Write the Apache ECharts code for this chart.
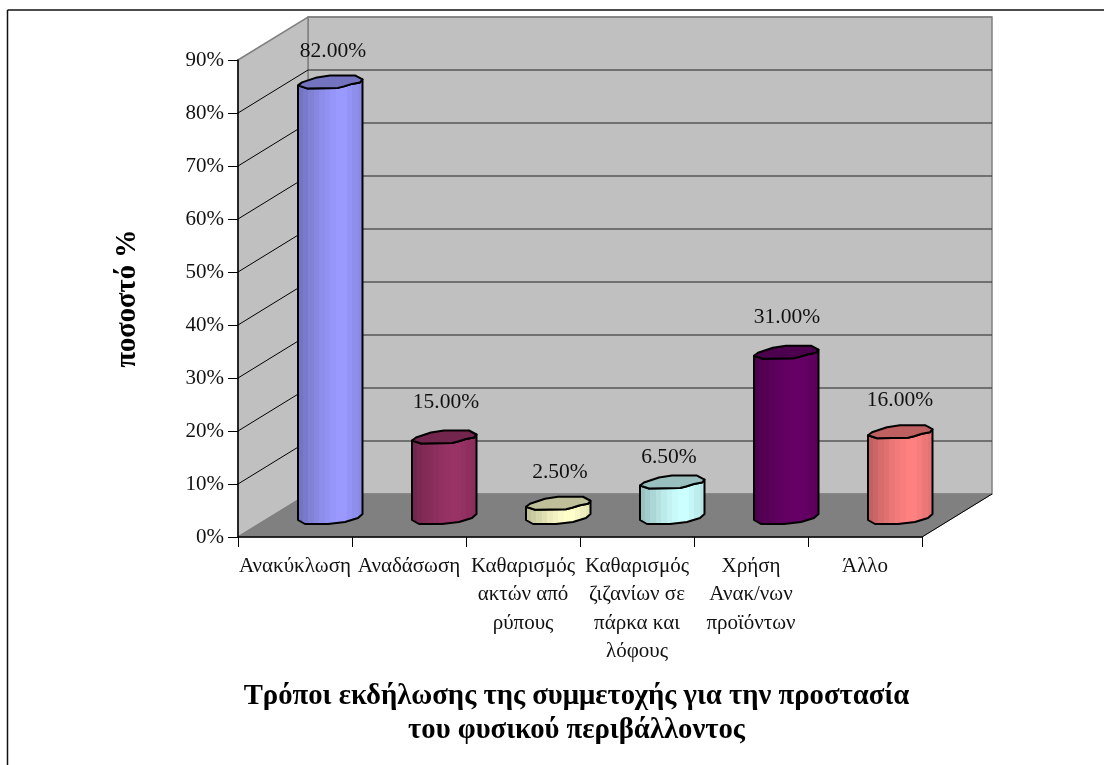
<!DOCTYPE html>
<html>
<head>
<meta charset="utf-8">
<style>
  html, body { margin: 0; padding: 0; background: #fff; }
  #main { width: 1104px; height: 765px; }
</style>
<script src="https://cdn.jsdelivr.net/npm/echarts@6/dist/echarts.min.js"></script>
</head>
<body>
<div id="main"></div>
<script>
var categories = ['Ανακύκλωση', 'Αναδάσωση', 'Καθαρισμός\nακτών από\nρύπους',
  'Καθαρισμός\nζιζανίων σε\nπάρκα και\nλόφους', 'Χρήση\nΑνακ/νων\nπροϊόντων', 'Άλλο'];
var values = [82, 15, 2.5, 6.5, 31, 16];
var barColors = ['#9999ff', '#993366', '#ffffcc', '#ccffff', '#660066', '#ff8080'];
var gridTicks = [10, 20, 30, 40, 50, 60, 70, 80, 90];
var yTitle = 'ποσοστό %';
var xTitle = 'Τρόποι εκδήλωσης της συμμετοχής για την προστασία\nτου φυσικού περιβάλλοντος';

// layout of the fake 3d box
var depthX = 70, depthY = -43;
var midX = 35, midY = -20;
var serif = '"Liberation Serif", "Times New Roman", serif';
// label nudges, the source places them a little unevenly
var labelNudge = [[3, 0], [2, -4], [2, 0], [-3, 6], [1, -4], [0, -1]];

// outline of the cylinder cap and base, relative to the bar centre
var capFront = [[-32, 3], [-23, 6], [8, 5.5], [14, 4], [22, 1.5], [30, 0], [32.5, -3]];
var capBack = [[25, -7], [0, -7], [-13, -5], [-28, 0]];
var baseShape = [[32.5, -3], [28, 1], [15, 5], [-2, 7], [-25, 7], [-32, 3]];
var bands = [0.76, 0.8, 0.84, 0.88, 0.92, 0.95, 0.98, 1, 1, 0.97, 0.93, 0.9];

function shade(hex, k) {
  var n = parseInt(hex.slice(1), 16);
  var r = Math.round((n >> 16) * k), g = Math.round(((n >> 8) & 255) * k), b = Math.round((n & 255) * k);
  return 'rgb(' + r + ',' + g + ',' + b + ')';
}

function bandFill(hex) {
  var stops = [];
  bands.forEach(function (k, i) {
    stops.push({ offset: i / bands.length, color: shade(hex, k) });
    stops.push({ offset: (i + 1) / bands.length, color: shade(hex, k) });
  });
  return new echarts.graphic.LinearGradient(0, 0, 1, 0, stops);
}

function renderBox(params, api) {
  var cs = params.coordSys;
  var left = cs.x, right = cs.x + cs.width;
  var y0 = api.coord([0, 0])[1], yTop = api.coord([0, 90])[1];
  var wall = { fill: '#c0c0c0', stroke: '#808080', lineWidth: 1.5 };
  return {
    type: 'group',
    children: [
      { type: 'polygon', shape: { points: [[left + depthX, yTop + depthY], [right + depthX, yTop + depthY], [right + depthX, y0 + depthY], [left + depthX, y0 + depthY]] }, style: wall },
      { type: 'polygon', shape: { points: [[left, yTop], [left + depthX, yTop + depthY], [left + depthX, y0 + depthY], [left, y0]] }, style: wall },
      { type: 'polygon', shape: { points: [[left, y0], [left + depthX, y0 + depthY], [right + depthX, y0 + depthY], [right, y0]] }, style: { fill: '#808080', stroke: '#808080' } },
      { type: 'line', shape: { x1: right, y1: y0, x2: right + depthX, y2: y0 + depthY }, style: { stroke: '#000', lineWidth: 1 } }
    ]
  };
}

function renderGridLine(params, api) {
  var cs = params.coordSys;
  var y = api.coord([0, api.value(0)])[1];
  var isTop = api.value(0) === 90;
  var kids = [{ type: 'line', shape: { x1: cs.x + depthX, y1: y + depthY, x2: cs.x + cs.width + depthX, y2: y + depthY }, style: { stroke: isTop ? '#808080' : '#222', lineWidth: isTop ? 1.5 : 1.2 } }];
  if (!isTop) {
    kids.push({ type: 'line', shape: { x1: cs.x, y1: y, x2: cs.x + depthX, y2: y + depthY }, style: { stroke: '#000', lineWidth: 1 } });
  }
  return { type: 'group', children: kids };
}

function renderBar(params, api) {
  var i = params.dataIndex;
  var top = api.coord([api.value(0), api.value(1)]);
  var base = api.coord([api.value(0), 0]);
  var cx = top[0] + midX, yt = top[1] + midY, yb = base[1] + midY;
  var line = { stroke: '#000', lineWidth: 2, lineJoin: 'round' };
  var front = capFront.map(function (p) { return [cx + p[0], yt + p[1]]; });
  var body = front.concat(baseShape.map(function (p) { return [cx + p[0], yb + p[1]]; }));
  var cap = front.concat(capBack.map(function (p) { return [cx + p[0], yt + p[1]]; }));
  return {
    type: 'group',
    children: [
      { type: 'polygon', shape: { points: body }, style: Object.assign({ fill: bandFill(barColors[i]) }, line) },
      { type: 'polygon', shape: { points: cap }, style: Object.assign({ fill: shade(barColors[i], 0.75) }, line) },
      {
        type: 'text',
        style: {
          x: cx + labelNudge[i][0], y: yt - 31 + labelNudge[i][1],
          text: values[i].toFixed(2) + '%',
          font: '21.5px ' + serif, fill: '#111', align: 'center', verticalAlign: 'middle'
        }
      }
    ]
  };
}

var chart = echarts.init(document.getElementById('main'), null, { renderer: 'canvas' });
chart.setOption({
  backgroundColor: '#fff',
  animation: false,
  graphic: [
    { type: 'line', z: -1, silent: true, shape: { x1: 7.5, y1: 10, x2: 1104, y2: 10 }, style: { stroke: '#111', lineWidth: 1.5 } },
    { type: 'line', z: -1, silent: true, shape: { x1: 7.5, y1: 10, x2: 7.5, y2: 765 }, style: { stroke: '#111', lineWidth: 1.5 } }
  ],
  grid: { left: 238, top: 60, width: 684, height: 477, containLabel: false, outerBoundsMode: 'none' },
  xAxis: {
    type: 'category',
    data: categories,
    z: 5,
    axisLine: { lineStyle: { color: '#000', width: 1.5 } },
    axisTick: { show: true, alignWithLabel: false, length: 10, lineStyle: { color: '#000' } },
    axisLabel: { interval: 0, color: '#111', fontFamily: serif, fontSize: 21, lineHeight: 28.5, margin: 15, hideOverlap: false },
    splitLine: { show: false },
    name: xTitle,
    nameLocation: 'middle',
    nameGap: 143,
    nameTextStyle: { color: '#000', fontFamily: serif, fontSize: 28.7, fontWeight: 'bold', lineHeight: 34, padding: [0, 7, 0, 0] }
  },
  yAxis: {
    type: 'value',
    min: 0, max: 90, interval: 10,
    z: 5,
    axisLine: { show: true, lineStyle: { color: '#000', width: 1.5 } },
    axisTick: { show: true, length: 10, lineStyle: { color: '#000' } },
    axisLabel: { color: '#111', fontFamily: serif, fontSize: 21, margin: 14, formatter: '{value}%' },
    splitLine: { show: false },
    name: yTitle,
    nameLocation: 'middle',
    nameGap: 96,
    nameRotate: 90,
    nameTextStyle: { color: '#000', fontFamily: serif, fontSize: 28.5, fontWeight: 'bold' }
  },
  series: [
    { type: 'custom', z: 1, silent: true, renderItem: renderBox, data: [[0]] },
    { type: 'custom', z: 2, silent: true, renderItem: renderGridLine, encode: { y: 0 }, data: gridTicks.map(function (t) { return [t]; }) },
    { type: 'custom', z: 3, renderItem: renderBar, encode: { x: 0, y: 1 }, data: values.map(function (v, i) { return [i, v]; }) }
  ]
});
</script>
</body>
</html>
